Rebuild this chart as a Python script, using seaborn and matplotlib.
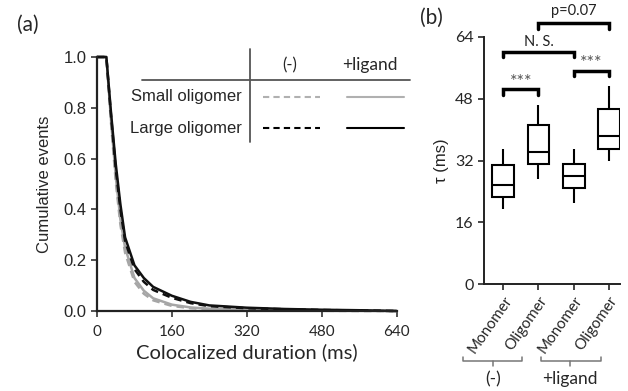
import numpy as np
import pandas as pd
import matplotlib.pyplot as plt
import seaborn as sns

# (a) cumulative events vs colocalized duration
duration = [0, 20, 30, 40, 50, 60, 80, 100, 120, 160, 200, 240, 320, 400, 480, 560, 640]
large_ligand = [1.0, 1.0, 0.78, 0.58, 0.42, 0.29, 0.18, 0.13, 0.095, 0.06, 0.036, 0.022, 0.013, 0.008, 0.005, 0.003, 0.0]
large_minus = [1.0, 1.0, 0.77, 0.56, 0.40, 0.275, 0.165, 0.115, 0.083, 0.052, 0.031, 0.019, 0.011, 0.007, 0.004, 0.002, 0.0]
small_ligand = [1.0, 1.0, 0.75, 0.53, 0.36, 0.25, 0.13, 0.08, 0.05, 0.025, 0.014, 0.009, 0.005, 0.003, 0.002, 0.001, 0.0]
small_minus = [1.0, 1.0, 0.74, 0.51, 0.34, 0.23, 0.115, 0.068, 0.042, 0.02, 0.011, 0.007, 0.004, 0.002, 0.001, 0.0, 0.0]

# (b) tau five-number summaries: low whisker, Q1, median, Q3, high whisker
groups = ['Monomer (-)', 'Oligomer (-)', 'Monomer +ligand', 'Oligomer +ligand']
tick_names = ['Monomer', 'Oligomer', 'Monomer', 'Oligomer']
mono_minus = [19.5, 22.5, 25.6, 30.9, 35.1]
oligo_minus = [27.3, 31.1, 34.1, 41.1, 46.5]
mono_ligand = [21.0, 24.9, 28.1, 31.1, 35.1]
oligo_ligand = [32.0, 35.0, 38.4, 45.4, 51.4]

W, H = 628, 391
sns.set_style('ticks')
plt.rcParams['font.family'] = ['Liberation Sans', 'DejaVu Sans']


def fx(x):
    return x / W


def fy(y):
    return 1 - y / H


fig = plt.figure(figsize=(6.28, 3.91), dpi=100)
ax1 = fig.add_axes([fx(97), fy(311), 299.5 / W, 254 / H])
ax2 = fig.add_axes([fx(484), fy(284), 136 / W, 247 / H])

# ---- panel (a)
rows = []
for size, cond, vals in [('Small', '(-)', small_minus), ('Small', '+ligand', small_ligand),
                         ('Large', '(-)', large_minus), ('Large', '+ligand', large_ligand)]:
    for d, v in zip(duration, vals):
        rows.append({'duration': d, 'events': v, 'size': size, 'cond': cond})
curves = pd.DataFrame(rows)

sns.lineplot(data=curves, x='duration', y='events', hue='size', style='cond',
             hue_order=['Small', 'Large'], style_order=['(-)', '+ligand'],
             palette={'Small': '#a6a6a6', 'Large': '#111111'},
             dashes={'(-)': (3, 2), '+ligand': ''}, linewidth=1.8,
             legend=False, ax=ax1)
for ln in ax1.lines:
    ln.set_clip_on(False)
ax1.set_xlim(0, 640)
ax1.set_ylim(0, 1.0)
ax1.set_xticks([0, 160, 320, 480, 640])
ax1.set_yticks([0, 0.2, 0.4, 0.6, 0.8, 1.0])
ax1.set_yticklabels(['0.0', '0.2', '0.4', '0.6', '0.8', '1.0'])
ax1.tick_params(axis='y', labelsize=12, length=4, width=1.2, color='#333333')
ax1.tick_params(axis='x', labelsize=11, length=4, width=1.2, color='#333333', pad=6)
for lbl in ax1.get_xticklabels():
    lbl.set_family('Lato')
ax1.set_xlabel('Colocalized duration (ms)', fontsize=14.5, family='Lato', labelpad=3)
ax1.set_ylabel('Cumulative events', fontsize=12, labelpad=8)
sns.despine(ax=ax1)
for s in ['left', 'bottom']:
    ax1.spines[s].set_linewidth(1.6)
    ax1.spines[s].set_color('#222222')

# table-style legend
fig.add_artist(plt.Line2D([fx(250), fx(250)], [fy(49), fy(142)], color='#555555', lw=1.3))
fig.add_artist(plt.Line2D([fx(142), fx(410)], [fy(80), fy(80)], color='#555555', lw=1.3))
fig.text(fx(290), fy(65), '(-)', ha='center', va='center', fontsize=12, family='Lato')
fig.text(fx(370), fy(65), '+ligand', ha='center', va='center', fontsize=12.5, family='Lato')
fig.text(fx(242), fy(97), 'Small oligomer', ha='right', va='center', fontsize=12)
fig.text(fx(242), fy(128), 'Large oligomer', ha='right', va='center', fontsize=12)
fig.add_artist(plt.Line2D([fx(263), fx(320)], [fy(97), fy(97)], color='#b0b0b0', lw=1.5, dashes=(3, 2)))
fig.add_artist(plt.Line2D([fx(347), fx(404)], [fy(97), fy(97)], color='#b0b0b0', lw=1.5))
fig.add_artist(plt.Line2D([fx(263), fx(320)], [fy(128), fy(128)], color='black', lw=1.5, dashes=(3, 2)))
fig.add_artist(plt.Line2D([fx(347), fx(404)], [fy(128), fy(128)], color='black', lw=1.5))
fig.text(fx(28), fy(25), '(a)', ha='center', va='center', fontsize=15, family='Lato')

# ---- panel (b)
box_rows = []
for g, vals in zip(groups, [mono_minus, oligo_minus, mono_ligand, oligo_ligand]):
    for v in vals:
        box_rows.append({'group': g, 'tau': v})
taus = pd.DataFrame(box_rows)

sns.boxplot(data=taus, x='group', y='tau', order=groups, whis=(0, 100), width=0.62,
            showcaps=False, color='white', linecolor='black', linewidth=1.5, ax=ax2)
ax2.set_xlim(-0.55, 3.32)
ax2.set_ylim(0, 64)
ax2.set_yticks([0, 16, 32, 48, 64])
ax2.set_xticks(range(4))
ax2.set_xticklabels(tick_names, rotation=55, ha='right', va='top', rotation_mode='anchor',
                    fontsize=11, family='Lato')
ax2.tick_params(axis='y', labelsize=11.5, length=4, width=1.2)
ax2.tick_params(axis='x', length=4, width=1.2, pad=3)
for lbl in ax2.get_yticklabels():
    lbl.set_family('Lato')
ax2.set_xlabel('')
ax2.set_ylabel('τ (ms)', fontsize=12, labelpad=4)
sns.despine(ax=ax2)
for s in ['left', 'bottom']:
    ax2.spines[s].set_linewidth(1.4)
    ax2.spines[s].set_color('#222222')


def bracket(x0, x1, y, leg, label, ty, color='#555555', size=9):
    ax2.plot([x0, x0, x1, x1], [y - leg, y, y, y - leg], color='black', lw=2.5,
             solid_joinstyle='miter', clip_on=False)
    ax2.text((x0 + x1) / 2, ty, label, ha='center', va='center', fontsize=size,
             color=color, family='Lato')


bracket(0, 1, 50.5, 1.4, '***', 52.4, size=13)
bracket(2, 3, 55.3, 1.4, '***', 57.2, size=13)
bracket(0, 2, 60.2, 1.3, 'N. S.', 62.8, color='#222222', size=10.5)
bracket(1, 3, 67.7, 1.5, 'p=0.07', 70.8, color='#222222', size=10.5)

# group braces under the category labels
xt = ax2.get_xaxis_transform()
for x0, x1, xc, name in [(-1.14, 0.54, -0.29, '(-)'), (1.06, 2.77, 1.89, '+ligand')]:
    ax2.plot([x0, x0, x1, x1], [-0.295, -0.312, -0.312, -0.295], transform=xt,
             color='#777777', lw=1.1, clip_on=False)
    ax2.plot([xc, xc], [-0.312, -0.332], transform=xt, color='#777777', lw=1.1, clip_on=False)
    ax2.text(xc, -0.385, name, transform=xt, ha='center', va='center', fontsize=12.5,
             family='Lato')
fig.text(fx(431), fy(18), '(b)', ha='center', va='center', fontsize=15, family='Lato')

fig.savefig('out.png', dpi=100)
